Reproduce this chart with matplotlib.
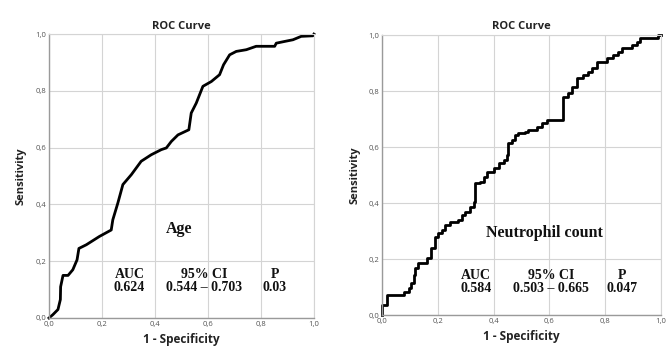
import matplotlib
matplotlib.use("Agg")
import matplotlib.pyplot as plt

# Age ROC curve vertices (1 - specificity, sensitivity)
age_fpr = [0, 0.015, 0.034, 0.043, 0.044, 0.053, 0.072, 0.09, 0.106, 0.113, 0.141, 0.19, 0.235,
           0.241, 0.26, 0.279, 0.311, 0.348, 0.386, 0.424, 0.443, 0.462, 0.487, 0.528, 0.537,
           0.556, 0.581, 0.613, 0.644, 0.659, 0.682, 0.707, 0.745, 0.782, 0.852, 0.858, 0.889,
           0.921, 0.952, 0.996, 1.0]
age_tpr = [0, 0.012, 0.03, 0.065, 0.11, 0.15, 0.15, 0.17, 0.205, 0.245, 0.258, 0.287, 0.31,
           0.346, 0.405, 0.47, 0.505, 0.552, 0.575, 0.593, 0.599, 0.622, 0.645, 0.663, 0.722,
           0.757, 0.816, 0.833, 0.857, 0.892, 0.927, 0.939, 0.945, 0.957, 0.957, 0.968, 0.974,
           0.98, 0.992, 0.994, 1.0]

# Neutrophil count ROC curve step points (steps-post)
neu_fpr = [0, 0, 0.018, 0.078, 0.095, 0.105, 0.113, 0.12, 0.129, 0.161, 0.177, 0.191, 0.2,
           0.215, 0.227, 0.245, 0.274, 0.286, 0.298, 0.316, 0.328, 0.334, 0.352, 0.364, 0.376,
           0.4, 0.418, 0.436, 0.447, 0.453, 0.465, 0.477, 0.489, 0.513, 0.525, 0.555, 0.573,
           0.591, 0.65, 0.666, 0.68, 0.692, 0.698, 0.722, 0.74, 0.752, 0.77, 0.805, 0.829,
           0.847, 0.859, 0.895, 0.913, 0.925, 0.988, 1.0]
neu_tpr = [0, 0.036, 0.071, 0.083, 0.095, 0.113, 0.143, 0.167, 0.185, 0.202, 0.238, 0.28, 0.292,
           0.304, 0.321, 0.333, 0.339, 0.357, 0.369, 0.387, 0.405, 0.47, 0.476, 0.494, 0.512,
           0.524, 0.542, 0.554, 0.571, 0.613, 0.625, 0.643, 0.649, 0.655, 0.661, 0.673, 0.685,
           0.696, 0.78, 0.792, 0.813, 0.815, 0.845, 0.857, 0.869, 0.881, 0.905, 0.917, 0.929,
           0.94, 0.952, 0.964, 0.976, 0.988, 1.0, 1.0]

ticks = [0, 0.2, 0.4, 0.6, 0.8, 1.0]
tick_labels = ["0,0", "0,2", "0,4", "0,6", "0,8", "1,0"]

panels = [
    dict(name="Age", fpr=age_fpr, tpr=age_tpr, steps=False,
         auc="0.624", ci="0.544 \u2013 0.703", p="0.03",
         rect=[0.0732, 0.1017, 0.396, 0.802],
         name_xy=(0.493, 0.313), col_x=(0.304, 0.587, 0.852), rows_y=(0.153, 0.106)),
    dict(name="Neutrophil count", fpr=neu_fpr, tpr=neu_tpr, steps=True,
         auc="0.584", ci="0.503 \u2013 0.665", p="0.047",
         rect=[0.571, 0.110, 0.417, 0.791],
         name_xy=(0.582, 0.292), col_x=(0.336, 0.606, 0.862), rows_y=(0.143, 0.095)),
]

fig = plt.figure(figsize=(6.69, 3.54), dpi=100)
fig.patch.set_facecolor("white")
sans = "Open Sans"
serif = "Liberation Serif"

for pnl in panels:
    ax = fig.add_axes(pnl["rect"])
    ax.set_xlim(0, 1)
    ax.set_ylim(0, 1)
    ax.set_xticks(ticks)
    ax.set_yticks(ticks)
    ax.set_xticklabels(tick_labels, fontsize=5.5, color="#555555", family=sans)
    ax.set_yticklabels(tick_labels, fontsize=5.5, color="#555555", family=sans)
    ax.tick_params(length=0, pad=2)
    ax.grid(True, color="#d4d4d4", linewidth=0.8)
    ax.set_axisbelow(True)
    for s in ["top", "right"]:
        ax.spines[s].set_color("#d4d4d4")
        ax.spines[s].set_linewidth(0.8)
    for s in ["left", "bottom"]:
        ax.spines[s].set_color("#9a9a9a")
        ax.spines[s].set_linewidth(1.0)
    ds = "steps-post" if pnl["steps"] else "default"
    ax.plot(pnl["fpr"], pnl["tpr"], color="black", linewidth=2.0, drawstyle=ds,
            solid_joinstyle="round", clip_on=False)
    ax.set_title("ROC Curve", fontsize=8, fontweight="bold", family=sans,
                 color="#222222", pad=4)
    ax.set_xlabel("1 - Specificity", fontsize=8.5, fontweight="bold", family=sans,
                  color="#222222", labelpad=4)
    ax.set_ylabel("Sensitivity", fontsize=8, fontweight="bold", family=sans,
                  color="#222222", labelpad=6)
    ax.text(*pnl["name_xy"], pnl["name"], fontsize=11.5, fontweight="bold", family=serif,
            ha="center", va="center", color="#111111")
    heads = ["AUC", "95% CI", "P"]
    vals = [pnl["auc"], pnl["ci"], pnl["p"]]
    for cx, h, v in zip(pnl["col_x"], heads, vals):
        ax.text(cx, pnl["rows_y"][0], h, fontsize=10, fontweight="bold", family=serif,
                ha="center", va="center", color="#111111")
        ax.text(cx, pnl["rows_y"][1], v, fontsize=10, fontweight="bold", family=serif,
                ha="center", va="center", color="#111111")

fig.savefig("out.png", dpi=100)
